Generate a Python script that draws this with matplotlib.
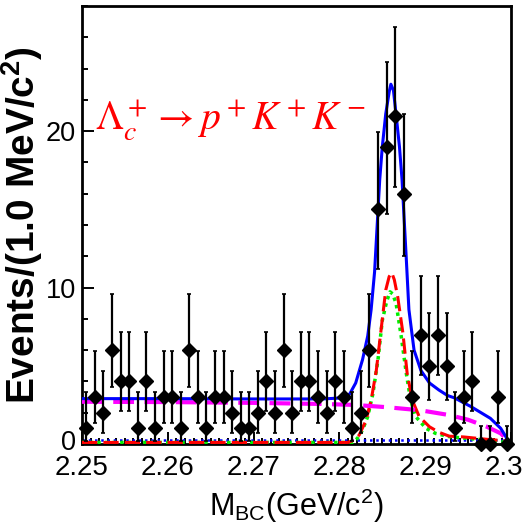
import matplotlib
matplotlib.use('Agg')
import matplotlib.pyplot as plt
import matplotlib.transforms as mtransforms
from matplotlib import font_manager
from matplotlib.ticker import MultipleLocator, FixedLocator, FixedFormatter

# pick a condensed sans if it is there (the reference text looks squeezed)
names = {f.name for f in font_manager.fontManager.ttflist}
narrow = 'Liberation Sans Narrow' if 'Liberation Sans Narrow' in names else 'Liberation Sans'

plt.rcParams['font.family'] = [narrow, 'DejaVu Sans']
plt.rcParams['mathtext.fontset'] = 'custom'
plt.rcParams['mathtext.rm'] = narrow
plt.rcParams['mathtext.it'] = narrow + ':italic'
plt.rcParams['mathtext.bf'] = 'Liberation Sans:bold'

######################################################################
# data: events per 1 MeV bin of M_BC
bin_lo = 2.25
bin_width = 0.001
counts = [1, 3, 2, 6, 4, 4, 1, 4, 1, 3,
          3, 1, 6, 3, 1, 3, 3, 2, 1, 1,
          2, 4, 2, 6, 2, 4, 4, 3, 2, 4,
          3, 1, 2, 6, 15, 19, 21, 16, 3, 7,
          5, 7, 5, 1, 3, 4, 0, 0, 3, 0]

# poisson (68%) intervals for the counts above
err_lo = {0: 0.0, 1: 0.827, 2: 1.292, 3: 1.633, 4: 1.914, 5: 2.159, 6: 2.379,
          7: 2.581, 15: 3.83, 16: 3.95, 19: 4.32, 21: 4.54}
err_hi = {0: 1.148, 1: 2.299, 2: 2.637, 3: 2.918, 4: 3.162, 5: 3.382, 6: 3.583,
          7: 3.770, 15: 4.96, 16: 5.08, 19: 5.43, 21: 5.65}

# total fit (blue)
tot_m = [2.2500, 2.2600, 2.2700, 2.2780, 2.2805, 2.2812, 2.2819, 2.2827, 2.2833, 2.2837,
         2.2841, 2.2847, 2.2850, 2.2854, 2.2858, 2.2860, 2.2863, 2.2866, 2.2870, 2.2873,
         2.2878, 2.2881, 2.2887, 2.2895, 2.2905, 2.2916, 2.2926, 2.2934, 2.2953, 2.2976,
         2.2988, 2.2994, 2.2997]
tot_v = [2.90, 2.90, 2.88, 2.88, 2.95, 3.2, 3.9, 5.4, 6.9, 8.6,
         11.0, 16.9, 19.0, 21.1, 22.5, 23.0, 22.6, 21.1, 19.0, 16.9,
         11.8, 8.6, 6.0, 4.7, 3.9, 3.45, 3.1, 2.95, 2.4, 1.64,
         1.0, 0.47, 0.0]

# combinatorial background (magenta)
bkg_m = [2.2500, 2.2600, 2.2700, 2.2780, 2.2817, 2.2856, 2.2895, 2.2928, 2.2950, 2.2972,
         2.2988, 2.2996, 2.2998]
bkg_v = [2.70, 2.68, 2.63, 2.56, 2.50, 2.35, 2.15, 1.85, 1.55, 1.10,
         0.68, 0.25, 0.0]

# signal shape (red)
sig_m = [2.2500, 2.2810, 2.2817, 2.2823, 2.2831, 2.2837, 2.2843, 2.2849, 2.2854, 2.2858,
         2.2861, 2.2864, 2.2868, 2.2874, 2.2879, 2.2885, 2.2893, 2.2905, 2.2916, 2.2928,
         2.2945, 2.2972, 2.2994, 2.2998]
sig_v = [0.1, 0.1, 0.25, 0.57, 1.5, 2.8, 4.7, 7.5, 9.84, 10.7,
         10.95, 10.5, 9.4, 7.1, 4.5, 2.8, 1.75, 1.1, 0.75, 0.5,
         0.45, 0.3, 0.2, 0.1]

# second signal component (green)
sig2_m = [2.2500, 2.2815, 2.2821, 2.2827, 2.2833, 2.2839, 2.2845, 2.2850, 2.2855, 2.2859,
          2.2862, 2.2866, 2.2872, 2.2878, 2.2883, 2.2889, 2.2901, 2.2912, 2.2928, 2.2950,
          2.2975, 2.2995]
sig2_v = [0.1, 0.1, 0.36, 0.9, 1.75, 3.2, 5.4, 7.9, 9.1, 9.73,
          9.6, 9.0, 6.9, 4.5, 2.8, 1.75, 1.0, 0.68, 0.47, 0.35,
          0.25, 0.1]

# peaking background (blue dotted, ~0)
peak_m = [2.25, 2.30]
peak_v = [0.25, 0.25]

xtick_vals = [2.25, 2.26, 2.27, 2.28, 2.29, 2.30]
xtick_labels = ['2.25', '2.26', '2.27', '2.28', '2.29', '2.3']
ytick_vals = [0, 10, 20]
ytick_labels = ['0', '10', '20']
######################################################################

centers = [bin_lo + bin_width * (i + 0.5) for i in range(len(counts))]
lo = [err_lo[n] for n in counts]
hi = [err_hi[n] for n in counts]

fig = plt.figure(figsize=(5.26, 5.29), dpi=100)
ax = fig.add_subplot(111)
fig.subplots_adjust(left=82 / 526, right=511 / 526, bottom=1 - 444 / 529, top=1 - 6 / 529)

ax.plot(peak_m, peak_v, color='#0000ff', lw=1.8, ls=(0, (1, 1.5)), zorder=2)
ax.plot(sig2_m, sig2_v, color='#00ee00', lw=2.5, ls=(0, (1, 1.2)), zorder=3)
ax.plot(sig_m, sig_v, color='#ff0000', lw=2.2, ls=(0, (5, 2)), zorder=3)
ax.plot(bkg_m, bkg_v, color='#ff00ff', lw=3.0, ls=(0, (5, 2.5)), zorder=3)
ax.plot(tot_m, tot_v, color='#0000ff', lw=2.2, zorder=4)

eb = ax.errorbar(centers, counts, yerr=[lo, hi], fmt='D', color='black', ms=7.5,
                 elinewidth=1.6, capsize=1.6, capthick=1.2, zorder=5)
eb.lines[0].set_clip_on(False)

ax.set_xlim(2.25, 2.30)
ax.set_ylim(0, 28)

ax.xaxis.set_major_locator(FixedLocator(xtick_vals))
ax.xaxis.set_major_formatter(FixedFormatter(xtick_labels))
ax.xaxis.set_minor_locator(MultipleLocator(0.001))
ax.yaxis.set_major_locator(FixedLocator(ytick_vals))
ax.yaxis.set_major_formatter(FixedFormatter(ytick_labels))
ax.yaxis.set_minor_locator(MultipleLocator(2))

ax.tick_params(which='both', direction='in', top=False, right=False, width=1.4)
ax.tick_params(which='major', length=8.5, labelsize=20)
ax.tick_params(axis='x', which='major', pad=8)
ax.tick_params(axis='y', which='major', pad=4.5, labelsize=19.5)
ax.tick_params(which='minor', length=4.3)
for sp in ax.spines.values():
    sp.set_linewidth(2.0)

# keep the last x label inside the canvas, lift the y "0" off the "2.25"
fig.canvas.draw()
last = ax.get_xticklabels()[-1]
last.set_transform(last.get_transform() + mtransforms.ScaledTranslation(-5 / 72, 0, fig.dpi_scale_trans))
zero = ax.get_yticklabels()[0]
zero.set_transform(zero.get_transform() + mtransforms.ScaledTranslation(0, 3 / 72, fig.dpi_scale_trans))

ax.set_xlabel(r'M$_{\mathrm{BC}}$(GeV/c$^{\mathrm{2}}$)', fontsize=22, labelpad=4)
ax.set_ylabel(r'Events/(1.0 MeV/c$^{\mathbf{2}}$)', fontsize=28, fontweight='bold',
              family=['Liberation Sans', 'DejaVu Sans'], va='center')
ax.yaxis.set_label_coords(-0.139, 0.5)

ax.text(0.03, 0.717, r'$\Lambda_c^+ \to p^+K^+K^-$', transform=ax.transAxes,
        color='#ff0000', fontsize=28.5, math_fontfamily='stix', va='baseline')

plt.savefig('out.png', dpi=100)
